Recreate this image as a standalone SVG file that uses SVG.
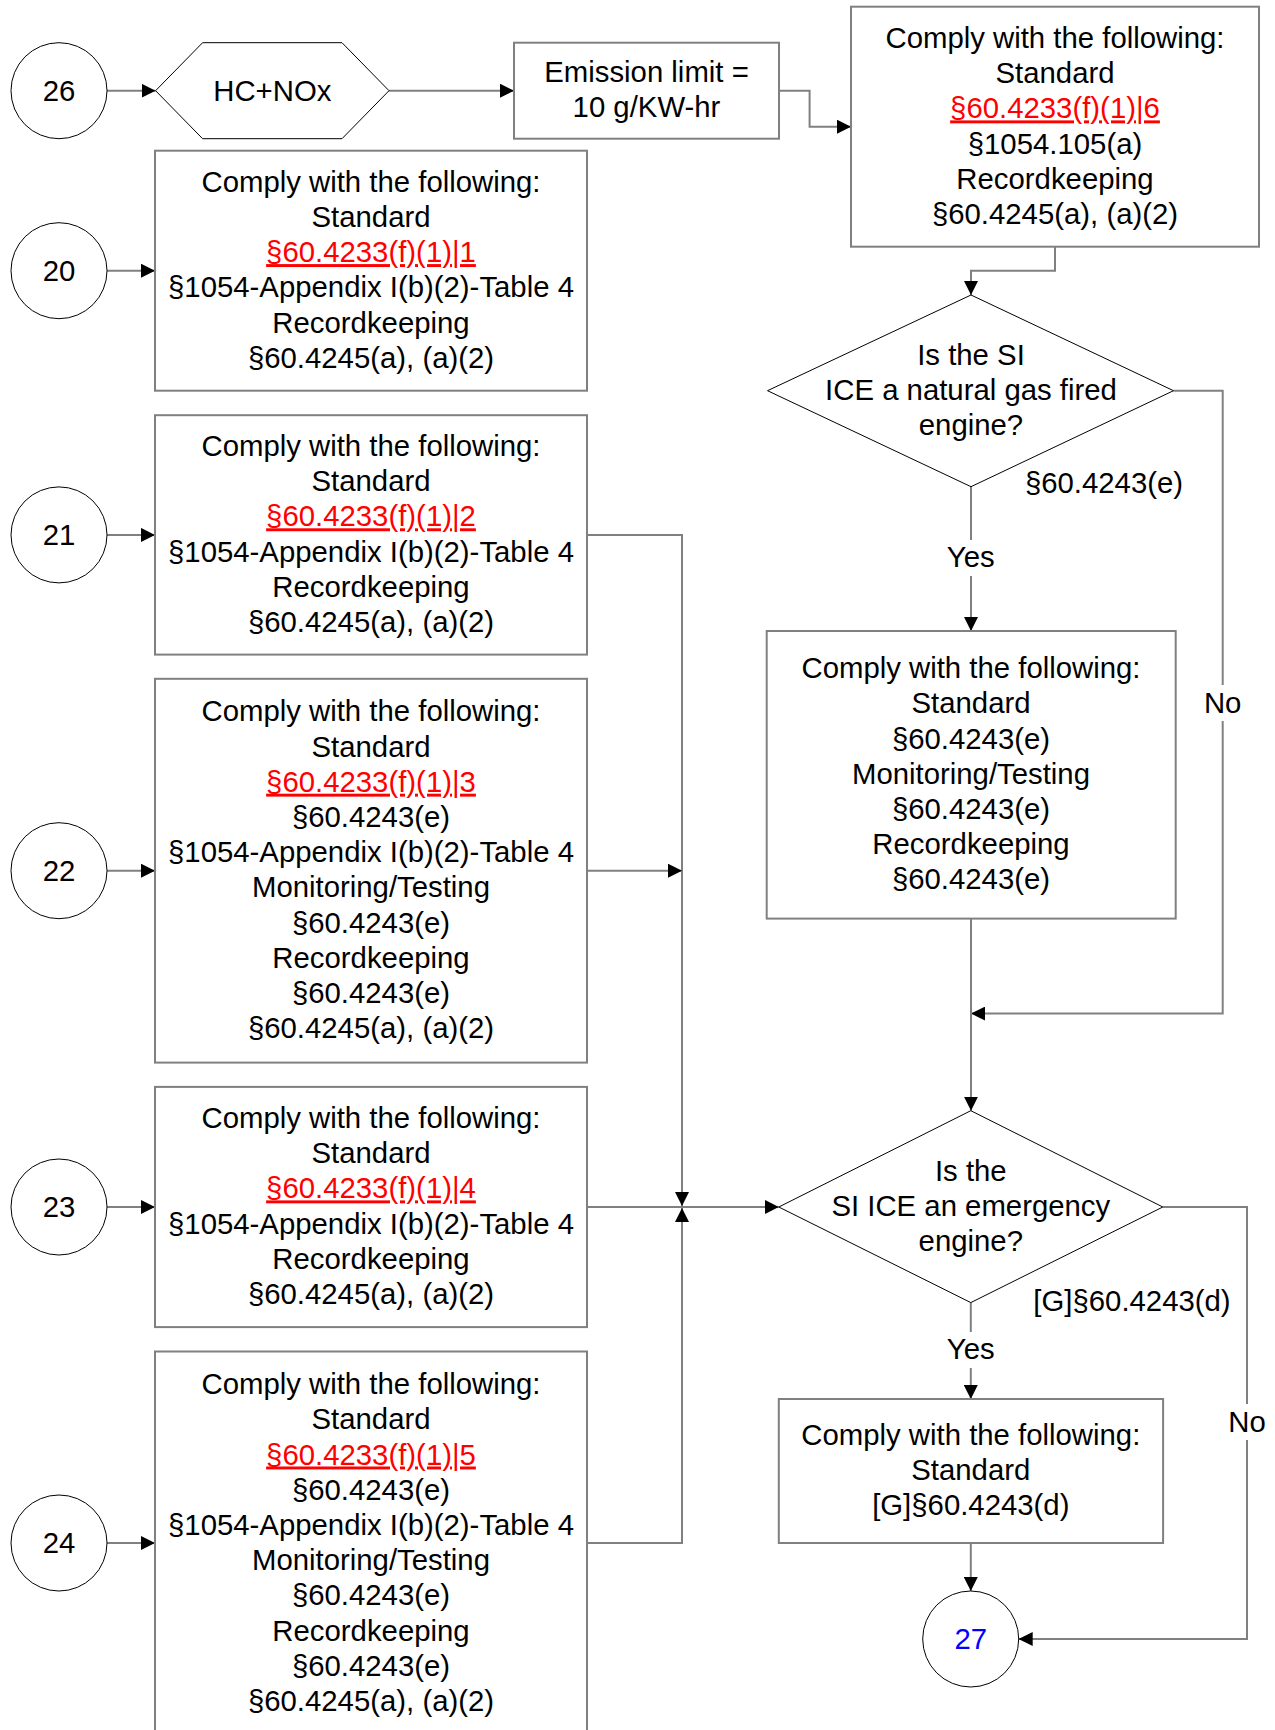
<svg xmlns="http://www.w3.org/2000/svg" width="1275" height="1730" viewBox="0 0 1275 1730">
<style>
text{font-family:"Liberation Sans",Arial,sans-serif;font-size:29.33px;fill:#000;text-anchor:middle}
.box{fill:#fff;stroke:#808080;stroke-width:2}
.shape{fill:#fff;stroke:#000;stroke-width:1}
.con{fill:none;stroke:#808080;stroke-width:2;marker-end:url(#arr)}
.con0{fill:none;stroke:#808080;stroke-width:2}
.red{fill:#ff0000;text-decoration:underline}
.blue{fill:#0000ff}
.lbl{fill:#fff;stroke:none}
</style>
<defs>
<marker id="arr" markerWidth="14" markerHeight="14" refX="14" refY="7" orient="auto" markerUnits="userSpaceOnUse"><path d="M0,0 L14,7 L0,14 z" fill="#000"/></marker>
</defs>
<rect width="1275" height="1730" fill="#fff"/>

<g id="connectors">
<path class="con" d="M107,90.7 H155.6"/>
<path class="con" d="M389,90.7 H514"/>
<path class="con" d="M779,90.7 H809.6 V126.7 H851"/>
<path class="con" d="M1055,247 V270.7 H971 V295"/>
<path class="con" d="M971,486.7 V631"/>
<path class="con" d="M1173.5,390.7 H1222.7 V1013.6 H971"/>
<path class="con" d="M971,918.6 V1110.7"/>
<path class="con" d="M970.8,1302.6 V1399"/>
<path class="con" d="M1162.8,1207 H1247 V1639 H1018.7"/>
<path class="con" d="M970.8,1543 V1591"/>
<path class="con" d="M107,270.7 H155"/>
<path class="con" d="M107,534.9 H155"/>
<path class="con" d="M107,870.7 H155"/>
<path class="con" d="M107,1207 H155"/>
<path class="con" d="M107,1543 H155"/>
<path class="con" d="M587,534.9 H682 V1206"/>
<path class="con" d="M587,870.7 H682"/>
<path class="con" d="M587,1207 H778.8"/>
<path class="con" d="M587,1543 H682 V1208"/>
<rect class="lbl" x="945" y="540" width="52" height="36"/>
<text x="970.8" y="567">Yes</text>
<rect class="lbl" x="1203" y="685" width="40" height="36"/>
<text x="1222.7" y="712.5">No</text>
<rect class="lbl" x="945" y="1332" width="52" height="36"/>
<text x="970.8" y="1359">Yes</text>
<rect class="lbl" x="1227" y="1404" width="40" height="36"/>
<text x="1247" y="1432">No</text>
<text x="1104" y="493">§60.4243(e)</text>
<text x="1132" y="1311">[G]§60.4243(d)</text>
</g>

<g id="n26">
<circle class="shape" cx="59" cy="90.7" r="48"/>
<text x="59" y="100.7">26</text>
</g>
<g id="hcnox">
<polygon class="shape" points="155.6,90.7 202.6,42.7 342,42.7 389,90.7 342,138.7 202.6,138.7"/>
<text x="272.3" y="100.7">HC+NOx</text>
</g>
<g id="emission">
<rect class="box" x="514" y="42.7" width="265" height="96"/>
<text x="646.5" y="82">Emission limit =</text>
<text x="646.5" y="117.2">10 g/KW-hr</text>
</g>
<g id="box6">
<rect class="box" x="851" y="6.7" width="408" height="240"/>
<text x="1055" y="48"><tspan x="1055">Comply with the following:</tspan><tspan x="1055" dy="35.2">Standard</tspan><tspan x="1055" dy="35.2" class="red">§60.4233(f)(1)|6</tspan><tspan x="1055" dy="35.2">§1054.105(a)</tspan><tspan x="1055" dy="35.2">Recordkeeping</tspan><tspan x="1055" dy="35.2">§60.4245(a), (a)(2)</tspan></text>
</g>
<g id="dec-ng">
<polygon class="shape" points="971,295 1173.5,390.7 971,486.7 767.5,390.7"/>
<text x="971" y="364.5"><tspan x="971">Is the SI</tspan><tspan x="971" dy="35.2">ICE a natural gas fired</tspan><tspan x="971" dy="35.2">engine?</tspan></text>
</g>
<g id="box-ng">
<rect class="box" x="766.7" y="631" width="409" height="287.6"/>
<text x="971" y="678.2"><tspan x="971">Comply with the following:</tspan><tspan x="971" dy="35.2">Standard</tspan><tspan x="971" dy="35.2">§60.4243(e)</tspan><tspan x="971" dy="35.2">Monitoring/Testing</tspan><tspan x="971" dy="35.2">§60.4243(e)</tspan><tspan x="971" dy="35.2">Recordkeeping</tspan><tspan x="971" dy="35.2">§60.4243(e)</tspan></text>
</g>
<g id="dec-em">
<polygon class="shape" points="970.8,1110.7 1162.8,1207 970.8,1302.6 778.8,1207"/>
<text x="970.8" y="1180.8"><tspan x="970.8">Is the</tspan><tspan x="970.8" dy="35.2">SI ICE an emergency</tspan><tspan x="970.8" dy="35.2">engine?</tspan></text>
</g>
<g id="box-g">
<rect class="box" x="778.8" y="1399" width="384.3" height="144"/>
<text x="970.8" y="1444.7"><tspan x="970.8">Comply with the following:</tspan><tspan x="970.8" dy="35.2">Standard</tspan><tspan x="970.8" dy="35.2">[G]§60.4243(d)</tspan></text>
</g>
<g id="n27">
<circle class="shape" cx="970.7" cy="1639" r="48"/>
<text x="970.7" y="1649" class="blue">27</text>
</g>

<g id="n20">
<circle class="shape" cx="59" cy="270.7" r="48"/>
<text x="59" y="280.7">20</text>
</g>
<g id="box20">
<rect class="box" x="155" y="150.7" width="432" height="240"/>
<text x="371" y="191.7"><tspan x="371">Comply with the following:</tspan><tspan x="371" dy="35.2">Standard</tspan><tspan x="371" dy="35.2" class="red">§60.4233(f)(1)|1</tspan><tspan x="371" dy="35.2">§1054-Appendix I(b)(2)-Table 4</tspan><tspan x="371" dy="35.2">Recordkeeping</tspan><tspan x="371" dy="35.2">§60.4245(a), (a)(2)</tspan></text>
</g>
<g id="n21">
<circle class="shape" cx="59" cy="534.9" r="48"/>
<text x="59" y="544.9">21</text>
</g>
<g id="box21">
<rect class="box" x="155" y="415.2" width="432" height="239.4"/>
<text x="371" y="455.9"><tspan x="371">Comply with the following:</tspan><tspan x="371" dy="35.2">Standard</tspan><tspan x="371" dy="35.2" class="red">§60.4233(f)(1)|2</tspan><tspan x="371" dy="35.2">§1054-Appendix I(b)(2)-Table 4</tspan><tspan x="371" dy="35.2">Recordkeeping</tspan><tspan x="371" dy="35.2">§60.4245(a), (a)(2)</tspan></text>
</g>
<g id="n22">
<circle class="shape" cx="59" cy="870.7" r="48"/>
<text x="59" y="880.7">22</text>
</g>
<g id="box22">
<rect class="box" x="155" y="678.8" width="432" height="383.8"/>
<text x="371" y="721.3"><tspan x="371">Comply with the following:</tspan><tspan x="371" dy="35.2">Standard</tspan><tspan x="371" dy="35.2" class="red">§60.4233(f)(1)|3</tspan><tspan x="371" dy="35.2">§60.4243(e)</tspan><tspan x="371" dy="35.2">§1054-Appendix I(b)(2)-Table 4</tspan><tspan x="371" dy="35.2">Monitoring/Testing</tspan><tspan x="371" dy="35.2">§60.4243(e)</tspan><tspan x="371" dy="35.2">Recordkeeping</tspan><tspan x="371" dy="35.2">§60.4243(e)</tspan><tspan x="371" dy="35.2">§60.4245(a), (a)(2)</tspan></text>
</g>
<g id="n23">
<circle class="shape" cx="59" cy="1207" r="48"/>
<text x="59" y="1217">23</text>
</g>
<g id="box23">
<rect class="box" x="155" y="1086.9" width="432" height="240.2"/>
<text x="371" y="1128"><tspan x="371">Comply with the following:</tspan><tspan x="371" dy="35.2">Standard</tspan><tspan x="371" dy="35.2" class="red">§60.4233(f)(1)|4</tspan><tspan x="371" dy="35.2">§1054-Appendix I(b)(2)-Table 4</tspan><tspan x="371" dy="35.2">Recordkeeping</tspan><tspan x="371" dy="35.2">§60.4245(a), (a)(2)</tspan></text>
</g>
<g id="n24">
<circle class="shape" cx="59" cy="1543" r="48"/>
<text x="59" y="1553">24</text>
</g>
<g id="box24">
<rect class="box" x="155" y="1351.5" width="432" height="384"/>
<text x="371" y="1394.1"><tspan x="371">Comply with the following:</tspan><tspan x="371" dy="35.2">Standard</tspan><tspan x="371" dy="35.2" class="red">§60.4233(f)(1)|5</tspan><tspan x="371" dy="35.2">§60.4243(e)</tspan><tspan x="371" dy="35.2">§1054-Appendix I(b)(2)-Table 4</tspan><tspan x="371" dy="35.2">Monitoring/Testing</tspan><tspan x="371" dy="35.2">§60.4243(e)</tspan><tspan x="371" dy="35.2">Recordkeeping</tspan><tspan x="371" dy="35.2">§60.4243(e)</tspan><tspan x="371" dy="35.2">§60.4245(a), (a)(2)</tspan></text>
</g>
</svg>
